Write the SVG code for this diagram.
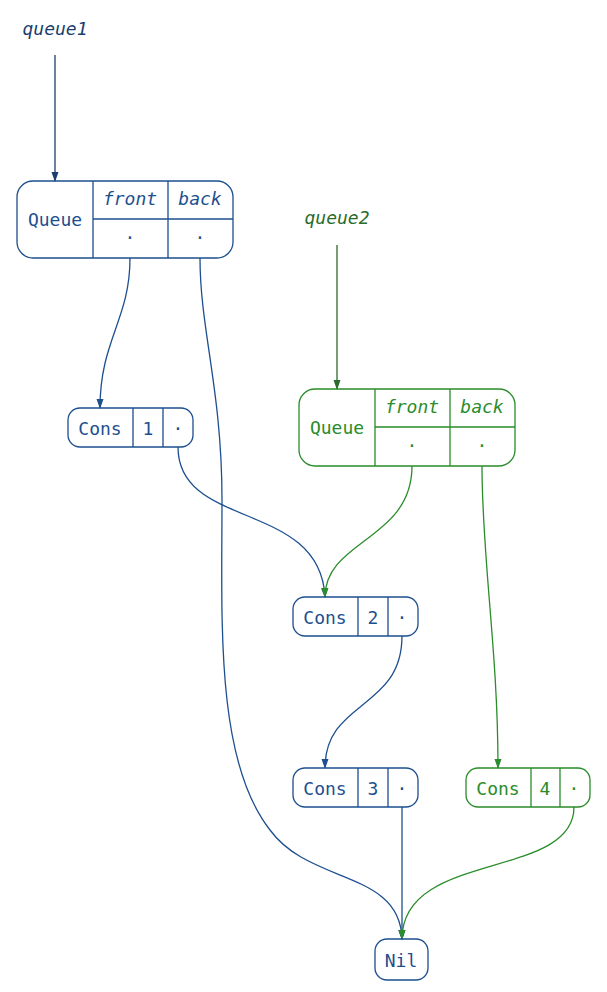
<svg xmlns="http://www.w3.org/2000/svg" width="607" height="992" viewBox="0 0 607 992">
<defs>
<style>
text{font-family:"DejaVu Sans Mono",monospace;font-size:18px;text-anchor:middle;dominant-baseline:central}
.it{font-style:italic}
.b{stroke:#1d4f8f;fill:none;stroke-width:1.3}
.g{stroke:#2a8c2a;fill:none;stroke-width:1.3}
.bt{fill:#1d4f8f}
.gt{fill:#2a8c2a}
.lb{fill:#1b3e6e}
.lg{fill:#2b6b2b}
</style>
<marker id="ab" markerWidth="10" markerHeight="10" refX="9" refY="5" orient="auto" markerUnits="userSpaceOnUse"><path d="M0,1.5 L10,5 L0,8.5 Z" fill="#1d4f8f"/></marker>
<marker id="ag" markerWidth="10" markerHeight="10" refX="9" refY="5" orient="auto" markerUnits="userSpaceOnUse"><path d="M0,1.5 L10,5 L0,8.5 Z" fill="#2a8c2a"/></marker>
<marker id="ad" markerWidth="10" markerHeight="10" refX="9" refY="5" orient="auto" markerUnits="userSpaceOnUse"><path d="M0,1.5 L10,5 L0,8.5 Z" fill="#1b3e6e"/></marker>
<marker id="adg" markerWidth="10" markerHeight="10" refX="9" refY="5" orient="auto" markerUnits="userSpaceOnUse"><path d="M0,1.5 L10,5 L0,8.5 Z" fill="#2b6b2b"/></marker>
</defs>
<g id="connectors">
<path d="M55,55 L55,181" stroke="#1b3e6e" stroke-width="1.3" fill="none" marker-end="url(#ad)"/>
<path d="M337,245 L337,389" stroke="#2b6b2b" stroke-width="1.3" fill="none" marker-end="url(#adg)"/>
<path class="b" d="M130,258 C130,320 100,340 100,408" marker-end="url(#ab)"/>
<path class="b" d="M200,258 C200,330 222,390 222,500 C222,620 215,760 270,830 C310,885 400,870 402,939" marker-end="url(#ab)"/>
<path class="b" d="M178,447 C178,530 320,500 325,597" marker-end="url(#ab)"/>
<path class="g" d="M412,466 C412,540 325,540 325,597" marker-end="url(#ag)"/>
<path class="g" d="M482,466 C482,560 498,650 498,768" marker-end="url(#ag)"/>
<path class="b" d="M402,636 C402,710 325,700 325,768" marker-end="url(#ab)"/>
<path class="b" d="M402,807 L402,939" marker-end="url(#ab)"/>
<path class="g" d="M574,807 C574,880 402,850 402,939" marker-end="url(#ag)"/>
</g>
<g id="queue1-label"><text x="55" y="28" class="it lb">queue1</text></g>
<g id="queue2-label"><text x="337" y="217" class="it lg">queue2</text></g>
<g id="queue1">
<rect class="b" x="17" y="181" width="216" height="77" rx="16"/>
<path class="b" d="M93,181 V258 M168,181 V258 M93,219 H233"/>
<text x="55" y="219" class="bt">Queue</text>
<text x="130" y="198" class="it bt">front</text>
<text x="200" y="198" class="it bt">back</text>
<text x="130" y="237" class="bt">·</text>
<text x="200" y="237" class="bt">·</text>
</g>
<g id="queue2">
<rect class="g" x="299" y="389" width="216" height="77" rx="16"/>
<path class="g" d="M375,389 V466 M450,389 V466 M375,427 H515"/>
<text x="337" y="427" class="gt">Queue</text>
<text x="412" y="406" class="it gt">front</text>
<text x="482" y="406" class="it gt">back</text>
<text x="412" y="445" class="gt">·</text>
<text x="482" y="445" class="gt">·</text>
</g>
<g id="cons1">
<rect class="b" x="68" y="408" width="125" height="39" rx="12"/>
<path class="b" d="M133,408 V447 M163,408 V447"/>
<text x="100" y="428" class="bt">Cons</text>
<text x="148" y="428" class="bt">1</text>
<text x="178" y="428" class="bt">·</text>
</g>
<g id="cons2">
<rect class="b" x="293" y="597" width="125" height="39" rx="12"/>
<path class="b" d="M358,597 V636 M388,597 V636"/>
<text x="325" y="617" class="bt">Cons</text>
<text x="373" y="617" class="bt">2</text>
<text x="402" y="617" class="bt">·</text>
</g>
<g id="cons3">
<rect class="b" x="293" y="768" width="125" height="39" rx="12"/>
<path class="b" d="M358,768 V807 M388,768 V807"/>
<text x="325" y="788" class="bt">Cons</text>
<text x="373" y="788" class="bt">3</text>
<text x="402" y="788" class="bt">·</text>
</g>
<g id="cons4">
<rect class="g" x="466" y="768" width="124" height="39" rx="12"/>
<path class="g" d="M531,768 V807 M560,768 V807"/>
<text x="498" y="788" class="gt">Cons</text>
<text x="545" y="788" class="gt">4</text>
<text x="574" y="788" class="gt">·</text>
</g>
<g id="nil">
<rect class="b" x="375" y="939" width="53" height="41" rx="12"/>
<text x="401" y="960" class="bt">Nil</text>
</g>
</svg>
